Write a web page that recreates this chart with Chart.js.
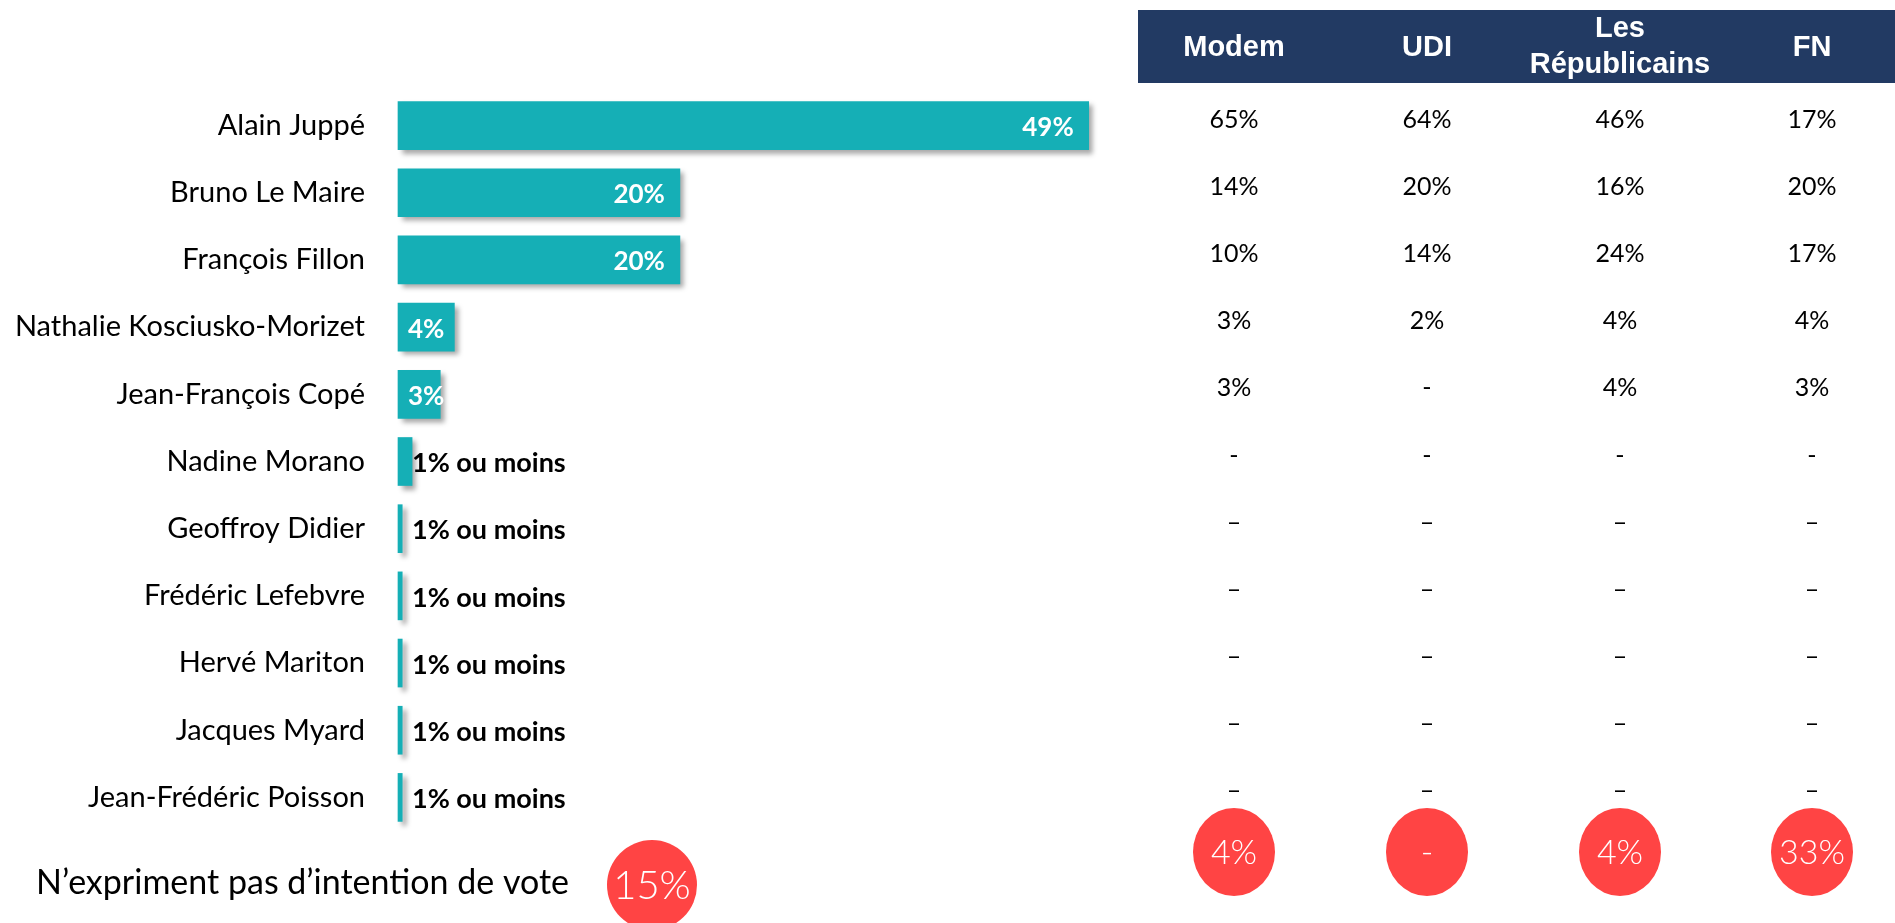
<!DOCTYPE html>
<html>
<head>
<meta charset="utf-8">
<script src="https://cdn.jsdelivr.net/npm/chart.js@4.4.0/dist/chart.umd.min.js"></script>
<style>
html, body { margin: 0; padding: 0; background: #fff; }
#wrap { position: relative; width: 1895px; height: 923px; }
</style>
</head>
<body>
<div id="wrap"><canvas id="myChart"></canvas></div>
<script>
// Intentions de vote - ensemble
const candidats = ['Alain Juppé', 'Bruno Le Maire', 'François Fillon', 'Nathalie Kosciusko-Morizet',
    'Jean-François Copé', 'Nadine Morano', 'Geoffroy Didier', 'Frédéric Lefebvre', 'Hervé Mariton',
    'Jacques Myard', 'Jean-Frédéric Poisson'];
const intentions = [49, 20, 20, 4, 3, 1, 0.3, 0.3, 0.3, 0.3, 0.3];

// Détail par proximité partisane (null = "-")
const partis = [['Modem'], ['UDI'], ['Les', 'Républicains'], ['FN']];
const modem = [65, 14, 10, 3, 3, null, null, null, null, null, null];
const udi = [64, 20, 14, 2, null, null, null, null, null, null, null];
const republicains = [46, 16, 24, 4, 4, null, null, null, null, null, null];
const fn = [17, 20, 17, 4, 3, null, null, null, null, null, null];

// N'expriment pas d'intention de vote
const sansIntentionPartis = [4, null, 4, 33];
const sansIntentionTotal = 15;

const FONT = 'Lato, "Open Sans", sans-serif';
const colonnesX = [1234, 1427, 1620, 1812];

const ombreBarres = {
    id: 'ombreBarres',
    beforeDatasetDraw(chart) {
        const ctx = chart.ctx;
        ctx.save();
        ctx.shadowColor = 'rgba(0, 0, 0, 0.35)';
        ctx.shadowBlur = 5;
        ctx.shadowOffsetX = 4;
        ctx.shadowOffsetY = 4;
    },
    afterDatasetDraw(chart) {
        chart.ctx.restore();
    }
};

const etiquettesBarres = {
    id: 'etiquettesBarres',
    afterDatasetsDraw(chart) {
        const ctx = chart.ctx;
        const meta = chart.getDatasetMeta(0);
        ctx.save();
        ctx.textBaseline = 'middle';
        meta.data.forEach((bar, i) => {
            const v = intentions[i];
            if (v <= 1) {
                ctx.fillStyle = '#000';
                ctx.font = 'bold 27px ' + FONT;
                ctx.textAlign = 'left';
                ctx.fillText('1% ou moins', bar.base + 14, bar.y + 2);
            } else if (v >= 10) {
                ctx.fillStyle = '#fff';
                ctx.font = 'bold 26px ' + FONT;
                ctx.textAlign = 'right';
                ctx.fillText(v + '%', bar.x - 15, bar.y + 2);
            } else {
                ctx.fillStyle = '#fff';
                ctx.font = 'bold 26px ' + FONT;
                ctx.textAlign = 'left';
                ctx.fillText(v + '%', bar.base + 10, bar.y + 2);
            }
        });
        ctx.restore();
    }
};

const tableauPartis = {
    id: 'tableauPartis',
    afterDraw(chart) {
        const ctx = chart.ctx;
        const y = chart.scales.y;
        ctx.save();

        // en-tête
        ctx.fillStyle = '#223a63';
        ctx.fillRect(1138, 10, 757, 73);
        ctx.fillStyle = '#fff';
        ctx.font = 'bold 29px "Liberation Sans Narrow", "Liberation Sans", Arial, sans-serif';
        ctx.textAlign = 'center';
        ctx.textBaseline = 'middle';
        partis.forEach((lignes, c) => {
            if (lignes.length === 1) {
                ctx.fillText(lignes[0], colonnesX[c], 48);
            } else {
                ctx.fillText(lignes[0], colonnesX[c], 29);
                ctx.fillText(lignes[1], colonnesX[c], 65);
            }
        });

        // valeurs
        ctx.fillStyle = '#000';
        ctx.font = '25px ' + FONT;
        [modem, udi, republicains, fn].forEach((serie, c) => {
            serie.forEach((v, i) => {
                const py = y.getPixelForValue(i) - 6;
                const txt = v === null ? (i <= 5 ? '-' : '–') : v + '%';
                ctx.fillText(txt, colonnesX[c], py);
            });
        });

        // bulles rouges
        const bulle = (cx, cy, rx, ry, txt, taille) => {
            ctx.fillStyle = '#ff4444';
            ctx.beginPath();
            ctx.ellipse(cx, cy, rx, ry, 0, 0, Math.PI * 2);
            ctx.fill();
            ctx.fillStyle = '#fff';
            ctx.font = '300 ' + taille + 'px ' + FONT;
            ctx.fillText(txt, cx, cy + 1);
        };
        sansIntentionPartis.forEach((v, c) => {
            bulle(colonnesX[c], 852, 41, 44, v === null ? '-' : v + '%', 34);
        });

        ctx.fillStyle = '#000';
        ctx.textAlign = 'left';
        ctx.font = '34px ' + FONT;
        ctx.fillText('N’expriment pas d’intention de vote', 36, 883);
        ctx.textAlign = 'center';
        bulle(652, 885, 45, 45, sansIntentionTotal + '%', 40);

        ctx.restore();
    }
};

const ctx = document.getElementById('myChart').getContext('2d');
const myChart = new Chart(ctx, {
    type: 'bar',
    data: {
        labels: candidats,
        datasets: [{
            data: intentions,
            backgroundColor: '#15afb6',
            borderWidth: 0,
            barThickness: 48,
            clip: false
        }]
    },
    options: {
        indexAxis: 'y',
        responsive: true,
        maintainAspectRatio: false,
        animation: false,
        layout: {
            padding: { left: 0, right: 764, top: 92, bottom: 92 }
        },
        scales: {
            x: {
                display: false,
                min: 0,
                max: 52
            },
            y: {
                afterFit: (scale) => { scale.width = 398; },
                grid: { display: false, drawTicks: false },
                border: { display: false },
                ticks: {
                    padding: 33,
                    color: '#000',
                    font: { family: FONT, size: 29 }
                }
            }
        },
        plugins: {
            legend: { display: false },
            tooltip: { enabled: false }
        }
    },
    plugins: [ombreBarres, etiquettesBarres, tableauPartis]
});
</script>
</body>
</html>
